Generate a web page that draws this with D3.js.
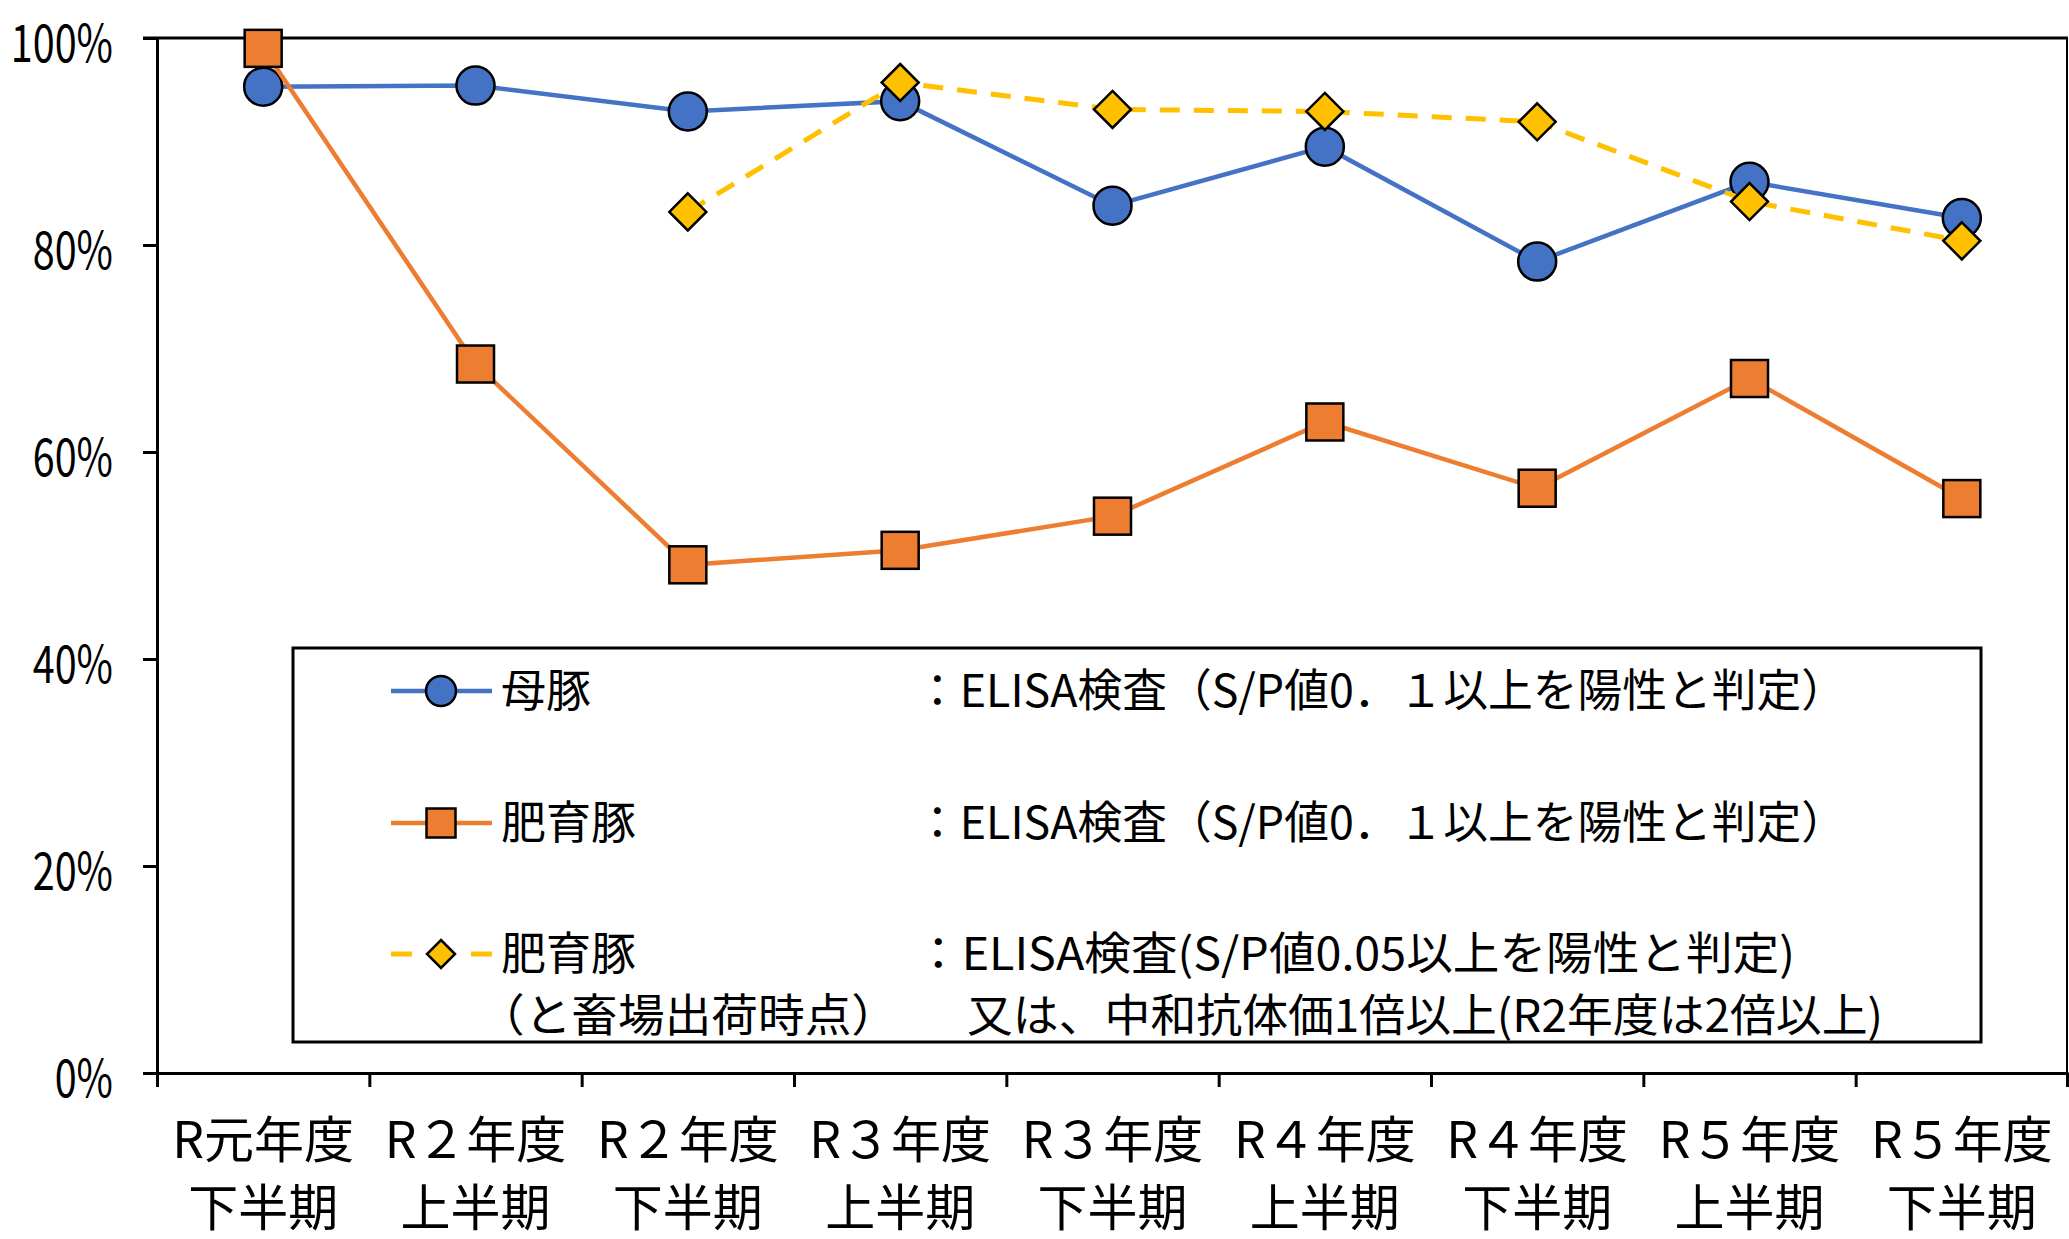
<!DOCTYPE html>
<html>
<head>
<meta charset="utf-8">
<script src="https://cdn.jsdelivr.net/npm/d3@7"></script>
<style>
  body { margin: 0; background: #fff; }
  text { font-family: "Noto Sans CJK JP", "Noto Sans", sans-serif; fill: #000; }
</style>
</head>
<body>
<div id="chart"></div>
<script>
// categories (2 lines each)
var periods = ["R元年度", "R２年度", "R２年度", "R３年度", "R３年度", "R４年度", "R４年度", "R５年度", "R５年度"];
var halves  = ["下半期", "上半期", "下半期", "上半期", "下半期", "上半期", "下半期", "上半期", "下半期"];

// series values (%)
var sows      = [95.3, 95.4, 92.9, 93.9, 83.8, 89.5, 78.4, 86.1, 82.6];
var fattening = [99.0, 68.5, 49.1, 50.5, 53.8, 62.9, 56.5, 67.1, 55.5];
var slaughter = [null, null, 83.2, 95.7, 93.1, 92.9, 91.9, 84.2, 80.4];

var yTicks = [0, 20, 40, 60, 80, 100];

// legend texts
var legendNames = ["母豚", "肥育豚", "肥育豚"];
var legendNote  = "（と畜場出荷時点）";
var legendDesc  = ["：ELISA検査（S/P値0．１以上を陽性と判定）",
                   "：ELISA検査（S/P値0．１以上を陽性と判定）",
                   "：ELISA検査(S/P値0.05以上を陽性と判定)"];
var legendDesc2 = "又は、中和抗体価1倍以上(R2年度は2倍以上)";

// dimensions
var width = 2069, height = 1239;
var plot = {left: 157, right: 2068, top: 38, bottom: 1073};

var svg = d3.select("#chart").append("svg")
            .attr("width", width)
            .attr("height", height);

var xScale = d3.scaleBand()
               .domain(d3.range(periods.length))
               .range([plot.left, plot.right]);
var xTick = d3.scaleLinear()
              .domain([0, periods.length])
              .range([plot.left, plot.right]);
var yScale = d3.scaleLinear()
               .domain([0, 100])
               .range([plot.bottom, plot.top]);

function cx(i) { return xScale(i) + xScale.bandwidth() / 2; }

// top border + right border
svg.append("line")
   .attr("x1", plot.left - 14).attr("x2", plot.right)
   .attr("y1", yScale(100)).attr("y2", yScale(100))
   .attr("stroke", "#000").attr("stroke-width", 3);
svg.append("line")
   .attr("x1", plot.right - 1).attr("x2", plot.right - 1)
   .attr("y1", yScale(100)).attr("y2", plot.bottom + 14)
   .attr("stroke", "#000").attr("stroke-width", 2);

// y axis
var yAxis = svg.append("g")
   .attr("transform", "translate(" + plot.left + ",0)")
   .call(d3.axisLeft(yScale).tickValues(yTicks).tickSize(14).tickPadding(30)
          .tickFormat(function (d) { return d + "%"; }));
yAxis.select(".domain").attr("stroke-width", 3);
yAxis.selectAll(".tick line").attr("stroke-width", 3);
yAxis.selectAll(".tick text")
     .attr("font-size", 52)
     .attr("font-family", "'Liberation Sans', Arial, sans-serif")
     .attr("x", -44 / 0.76)
     .attr("dy", 0)
     .attr("dominant-baseline", "central")
     .attr("transform", "scale(0.76,1)");

// x axis (ticks between categories)
var xAxis = svg.append("g")
   .attr("transform", "translate(0," + plot.bottom + ")")
   .call(d3.axisBottom(xTick).tickValues(d3.range(periods.length + 1))
          .tickSize(14).tickSizeOuter(0).tickFormat(""));
xAxis.select(".domain").attr("stroke-width", 3);
xAxis.selectAll(".tick line").attr("stroke-width", 3);

var labels = svg.append("g").selectAll("g")
   .data(periods)
   .enter().append("g")
   .attr("transform", function (d, i) { return "translate(" + cx(i) + ",0)"; });
labels.append("text")
   .attr("y", 1136)
   .attr("text-anchor", "middle")
   .attr("dominant-baseline", "central")
   .attr("font-size", 50)
   .text(function (d) { return d; });
labels.append("text")
   .attr("y", 1204)
   .attr("text-anchor", "middle")
   .attr("dominant-baseline", "central")
   .attr("font-size", 50)
   .text(function (d, i) { return halves[i]; });

// marker shapes
function drawMarker(g, type, x, y, s, color) {
  if (type == "circle") {
    g.append("circle").attr("cx", x).attr("cy", y).attr("r", s / 2)
     .attr("fill", color).attr("stroke", "#000").attr("stroke-width", 2.5);
  } else if (type == "square") {
    g.append("rect").attr("x", x - s / 2).attr("y", y - s / 2)
     .attr("width", s).attr("height", s)
     .attr("fill", color).attr("stroke", "#000").attr("stroke-width", 2.5);
  } else {
    var h = s / 2;
    g.append("path")
     .attr("d", "M" + x + "," + (y - h) + "L" + (x + h) + "," + y + "L" + x + "," + (y + h) + "L" + (x - h) + "," + y + "Z")
     .attr("fill", color).attr("stroke", "#000").attr("stroke-width", 2.5);
  }
}

var series = [
  {values: sows,      color: "#4472C4", marker: "circle",  size: 38, dash: null},
  {values: fattening, color: "#ED7D31", marker: "square",  size: 37, dash: null},
  {values: slaughter, color: "#FFC000", marker: "diamond", size: 37, dash: "20,14"}
];

var line = d3.line()
   .defined(function (d) { return d != null; })
   .x(function (d, i) { return cx(i); })
   .y(function (d) { return yScale(d); });

series.forEach(function (s) {
  var g = svg.append("g");
  g.append("path")
   .datum(s.values)
   .attr("d", line)
   .attr("fill", "none")
   .attr("stroke", s.color)
   .attr("stroke-width", s.dash ? 5 : 4.5)
   .attr("stroke-dasharray", s.dash);
  s.values.forEach(function (v, i) {
    if (v != null) drawMarker(g, s.marker, cx(i), yScale(v), s.size, s.color);
  });
});

// legend
var lg = svg.append("g");
lg.append("rect")
  .attr("x", 293).attr("y", 648).attr("width", 1688).attr("height", 394)
  .attr("fill", "#fff").attr("stroke", "#000").attr("stroke-width", 3);

var rowY = [691, 823, 954];
var legendSizes = [30, 29, 28];
series.forEach(function (s, i) {
  lg.append("line")
    .attr("x1", 391).attr("x2", 492)
    .attr("y1", rowY[i]).attr("y2", rowY[i])
    .attr("stroke", s.color).attr("stroke-width", s.dash ? 5 : 4.5)
    .attr("stroke-dasharray", s.dash ? "21,59" : null);
  drawMarker(lg, s.marker, 441, rowY[i], legendSizes[i], s.color);
  lg.append("text")
    .attr("x", 501).attr("y", rowY[i] - 4)
    .attr("dominant-baseline", "central")
    .attr("font-size", 45)
    .text(legendNames[i]);
});
var descWidths = [931, 931, 880];
legendDesc.forEach(function (d, i) {
  lg.append("text")
    .attr("x", 915).attr("y", rowY[i] - 4)
    .attr("dominant-baseline", "central")
    .attr("font-size", 45)
    .attr("textLength", descWidths[i])
    .attr("lengthAdjust", "spacingAndGlyphs")
    .text(d);
});
lg.append("text")
  .attr("x", 478).attr("y", 1012)
  .attr("dominant-baseline", "central")
  .attr("font-size", 45)
  .attr("textLength", 420)
  .attr("lengthAdjust", "spacingAndGlyphs")
  .text(legendNote);
lg.append("text")
  .attr("x", 967).attr("y", 1012)
  .attr("dominant-baseline", "central")
  .attr("font-size", 45)
  .attr("textLength", 916)
  .attr("lengthAdjust", "spacingAndGlyphs")
  .text(legendDesc2);
</script>
</body>
</html>
